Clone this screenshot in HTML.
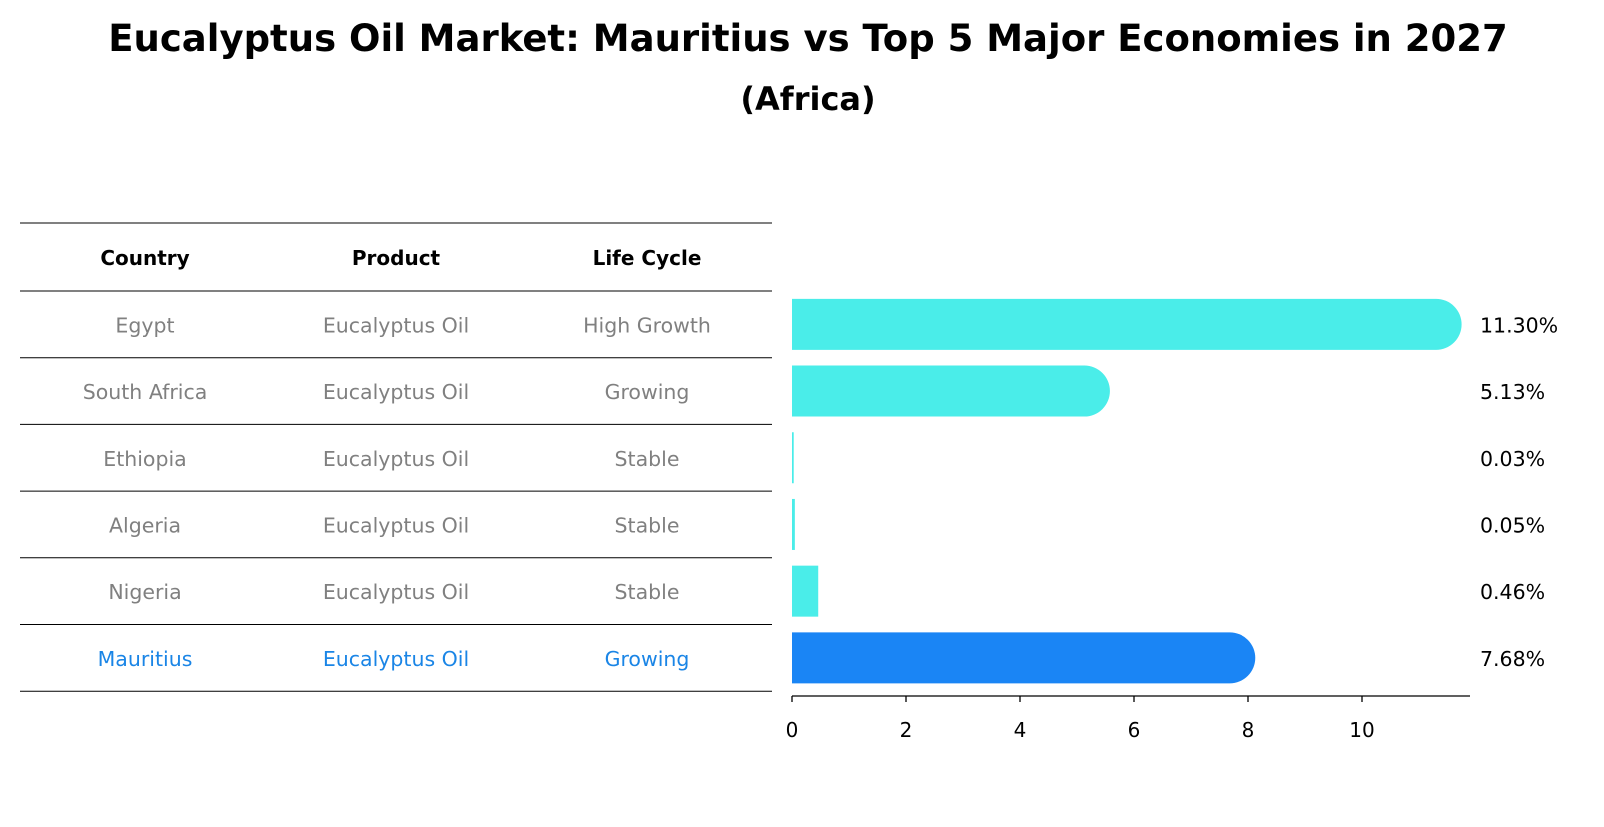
<!DOCTYPE html>
<html><head><meta charset="utf-8"><style>
body{margin:0;background:#fff;font-family:"DejaVu Sans","Liberation Sans",sans-serif;}
svg text{font-family:"DejaVu Sans","Liberation Sans",sans-serif;}
</style></head><body>
<svg id="chart" width="1604" height="823" xmlns="http://www.w3.org/2000/svg">
<rect width="1604" height="823" fill="#fff"/>
<text x="808" y="51" text-anchor="middle" font-size="37" font-weight="bold">Eucalyptus Oil Market: Mauritius vs Top 5 Major Economies in 2027</text>
<text x="808" y="110" text-anchor="middle" font-size="32" font-weight="bold">(Africa)</text>
<g id="table"></g>
<g id="bars"></g>
</svg>
<script>
const countries=["Egypt","South Africa","Ethiopia","Algeria","Nigeria","Mauritius"];
const products=["Eucalyptus Oil","Eucalyptus Oil","Eucalyptus Oil","Eucalyptus Oil","Eucalyptus Oil","Eucalyptus Oil"];
const lifeCycles=["High Growth","Growing","Stable","Stable","Stable","Growing"];
const values=[11.30,5.13,0.03,0.05,0.46,7.68];
const valueLabels=["11.30%","5.13%","0.03%","0.05%","0.46%","7.68%"];
const xTicks=[0,2,4,6,8,10];
const NS="http://www.w3.org/2000/svg";
function mk(tag,attrs,parent){const e=document.createElementNS(NS,tag);for(const k in attrs)e.setAttribute(k,attrs[k]);parent.appendChild(e);return e;}
const x0=792,pxPerUnit=57;
function xs(v){return x0+v*pxPerUnit;}
const rowTop=291,rowH=66.7;
function yc(i){return rowTop+rowH*i+rowH/2;}
const tbl=document.getElementById('table');
const lineYs=[223,291];
for(let i=1;i<=countries.length;i++)lineYs.push(rowTop+rowH*i);
lineYs.forEach((y,i)=>{
 const l=mk('line',{x1:20,x2:772,y1:y,y2:y,stroke:'#000','stroke-width':1},tbl);
 
 
});
const colX=[145,396,647];
["Country","Product","Life Cycle"].forEach((h,j)=>{
 const t=mk('text',{x:colX[j],y:265,'text-anchor':'middle','font-size':20,'font-weight':'bold'},tbl);
 t.textContent=h;
 
 
});
countries.forEach((c,i)=>{
 const col=i===countries.length-1?'#1a85e6':'#808080';
 [c,products[i],lifeCycles[i]].forEach((s,j)=>{
  const t=mk('text',{x:colX[j],y:yc(i)+8,'text-anchor':'middle','font-size':20.5,fill:col},tbl);
  t.textContent=s;
  
  
 });
});
const g=document.getElementById('bars');
const bh=51;
values.forEach((v,i)=>{
 const col=i===values.length-1?'#1a85f5':'#4aede9';
 const w=v*pxPerUnit;
 const y=yc(i)-bh/2;
 let el;
 if(v>1){
  const r=bh/2;
  const d=`M${x0},${y} H${x0+w} A${r},${r} 0 0 1 ${x0+w},${y+bh} H${x0} Z`;
  el=mk('path',{d:d,fill:col},g);
 } else {
  el=mk('rect',{x:x0,y:y,width:Math.max(w,1.5),height:bh,fill:col},g);
 }
 
 
 const t=mk('text',{x:1480,y:yc(i)+8,'font-size':20.5},g);
 t.textContent=valueLabels[i];
 
 
});
const ax=mk('line',{x1:x0,x2:1470,y1:696,y2:696,stroke:'#000','stroke-width':1.3},g);


xTicks.forEach(v=>{
 const tk=mk('line',{x1:xs(v),x2:xs(v),y1:696,y2:702,stroke:'#000','stroke-width':1.3},g);
 
 
 const t=mk('text',{x:xs(v),y:737,'text-anchor':'middle','font-size':20},g);
 t.textContent=v;
 
 
});
</script>
</body></html>
